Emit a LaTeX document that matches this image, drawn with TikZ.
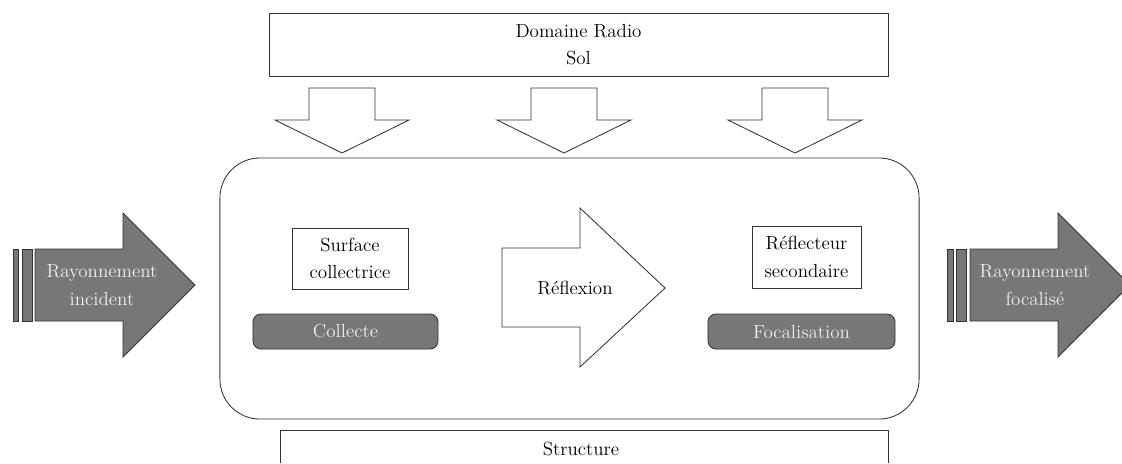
\documentclass[tikz,border=0pt]{standalone}
\usepackage{tikz}
\usepackage{xcolor}

\definecolor{gris}{HTML}{777777}
\definecolor{trait}{HTML}{333333}
\definecolor{clair}{HTML}{EFEFEA}

\tikzset{
  fleche bas/.pic={
    \draw[trait,line width=0.6pt,fill=white]
      (-33,-65) -- (33,-65) -- (33,-33) -- (67,-33) -- (0,0)
      -- (-67,-33) -- (-33,-33) -- cycle;
  }
}

\begin{document}
\begin{tikzpicture}[
    x=0.025cm, y=-0.025cm,
    every node/.style={font=\fontsize{13.5}{19.5}\selectfont,align=center,inner sep=1pt},
    boite/.style={draw=trait,line width=0.6pt,fill=white},
    etiquette/.style={draw=trait,line width=0.6pt,fill=gris,text=clair,rounded corners=0.2cm},
    grosse/.style={draw=trait,line width=0.6pt,fill=gris}
  ]
    \useasboundingbox (0,0) rectangle (1122,463);

    % domaine radio sol
    \node[boite,minimum width=15.475cm,minimum height=1.575cm] (radio) at (578.5,44.5) {Domaine Radio\\Sol};

    \pic at (342,153) {fleche bas};
    \pic at (564,153) {fleche bas};
    \pic at (795,153) {fleche bas};

    % cadre principal
    \node[boite,rounded corners=1cm,minimum width=17.475cm,minimum height=6.525cm] (cadre) at (569.5,288.5) {};

    \node[boite,minimum width=2.9cm,minimum height=1.525cm] (surface) at (350,258.5) {Surface\\collectrice};
    \node[etiquette,minimum width=4.625cm,minimum height=0.875cm] (collecte) at (345.5,331.5) {Collecte};

    \node[boite,minimum width=2.725cm,minimum height=1.55cm] (reflecteur) at (806.5,257) {R\'eflecteur\\secondaire};
    \node[etiquette,minimum width=4.675cm,minimum height=0.875cm] (focal) at (801.5,331.5) {Focalisation};

    % reflexion
    \draw[boite] (502,248) -- (580,248) -- (580,208) -- (665,288) -- (580,367) -- (580,327) -- (502,327) -- cycle;
    \node (reflexion) at (575,288) {R\'eflexion};

    % rayonnement entrant / sortant
    \draw[grosse] (13,249) rectangle (18,321);
    \draw[grosse] (22,249) rectangle (32,321);
    \draw[grosse] (35,249) -- (123,249) -- (123,213) -- (195,285) -- (123,357) -- (123,321) -- (35,321) -- cycle;
    \node[text=clair] (incident) at (102,285) {Rayonnement\\incident};

    \draw[grosse] (947,249) rectangle (953,321);
    \draw[grosse] (956,249) rectangle (966,321);
    \draw[grosse] (970,249) -- (1058,249) -- (1058,213) -- (1130,285) -- (1058,357) -- (1058,321) -- (970,321) -- cycle;
    \node[text=clair] (focalise) at (1035,285) {Rayonnement\\focalis\'e};

    % structure
    \draw[trait,line width=0.6pt] (280,463) -- (280,430) -- (888,430) -- (888,463);
    \node (structure) at (581,449) {Structure};
  \end{tikzpicture}
\end{document}
